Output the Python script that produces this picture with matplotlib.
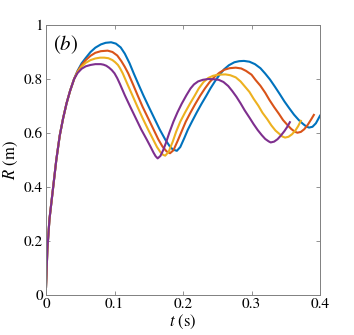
import numpy as np
import matplotlib
matplotlib.use('Agg')
import matplotlib.pyplot as plt

plt.rcParams['font.family'] = 'STIXGeneral'
plt.rcParams['mathtext.fontset'] = 'stix'

# values (t in s, R in m)
t_rise = [0.0, 0.002, 0.005, 0.010, 0.015, 0.020, 0.025, 0.030, 0.035, 0.041]
R_rise = [0.03, 0.17, 0.28, 0.39, 0.50, 0.59, 0.655, 0.71, 0.755, 0.80]

t_blue = t_rise + [0.046, 0.052, 0.058, 0.065, 0.072, 0.080, 0.087, 0.095,
                   0.102, 0.109, 0.115, 0.122, 0.128, 0.135, 0.142, 0.150, 0.158, 0.166, 0.174, 0.180, 0.185, 0.191,
                   0.196, 0.202, 0.207, 0.213, 0.220, 0.227, 0.234, 0.240, 0.247, 0.254, 0.260, 0.267, 0.275, 0.282, 0.289,
                   0.297, 0.305, 0.313, 0.320, 0.327, 0.334, 0.341, 0.348, 0.355, 0.362, 0.369, 0.375, 0.380, 0.384,
                   0.389, 0.394, 0.400]
R_blue = R_rise + [0.83, 0.858, 0.878, 0.900, 0.916, 0.928, 0.934, 0.936,
                   0.931, 0.917, 0.894, 0.858, 0.821, 0.780, 0.740, 0.697, 0.655, 0.613, 0.576, 0.553, 0.539, 0.534,
                   0.548, 0.582, 0.612, 0.642, 0.676, 0.708, 0.738, 0.765, 0.793, 0.818, 0.836, 0.851, 0.862, 0.866, 0.867,
                   0.864, 0.855, 0.840, 0.820, 0.798, 0.772, 0.745, 0.717, 0.692, 0.668, 0.648, 0.634, 0.624, 0.620,
                   0.623, 0.636, 0.664]

t_orange = t_rise + [0.046, 0.052, 0.058, 0.065, 0.072, 0.080, 0.090,
                     0.097, 0.104, 0.110, 0.115, 0.120, 0.127, 0.134, 0.141, 0.149, 0.157, 0.164, 0.170, 0.176, 0.181,
                     0.186, 0.192, 0.198, 0.204, 0.211, 0.218, 0.225, 0.232, 0.239, 0.246, 0.253, 0.260, 0.268, 0.277,
                     0.285, 0.292, 0.300, 0.306, 0.313, 0.320, 0.326, 0.333, 0.340, 0.346, 0.353, 0.358, 0.363, 0.367,
                     0.372, 0.377, 0.382, 0.387, 0.391]
R_orange = R_rise + [0.828, 0.852, 0.870, 0.886, 0.897, 0.903, 0.905,
                     0.900, 0.887, 0.866, 0.845, 0.821, 0.780, 0.738, 0.697, 0.655, 0.613, 0.576, 0.550, 0.532, 0.525,
                     0.536, 0.570, 0.606, 0.642, 0.676, 0.708, 0.738, 0.765, 0.789, 0.808, 0.823, 0.834, 0.840, 0.842,
                     0.839, 0.830, 0.816, 0.796, 0.775, 0.749, 0.723, 0.696, 0.671, 0.648, 0.628, 0.615, 0.605, 0.601,
                     0.604, 0.614, 0.630, 0.650, 0.667]

t_yellow = t_rise + [0.046, 0.052, 0.058, 0.065, 0.072, 0.079, 0.085,
                     0.091, 0.097, 0.101, 0.105, 0.108, 0.112, 0.119, 0.126, 0.1335, 0.141, 0.149, 0.156, 0.162, 0.167, 0.171, 0.174,
                     0.179, 0.185, 0.190, 0.196, 0.203, 0.210, 0.217, 0.223, 0.230, 0.237, 0.244, 0.252, 0.262,
                     0.269, 0.277, 0.284, 0.290, 0.297, 0.303, 0.310, 0.316, 0.323, 0.329, 0.335, 0.341, 0.345, 0.349,
                     0.354, 0.359, 0.364, 0.368, 0.372]
R_yellow = R_rise + [0.826, 0.846, 0.860, 0.870, 0.876, 0.879, 0.879,
                     0.877, 0.870, 0.862, 0.852, 0.840, 0.821, 0.780, 0.740, 0.697, 0.655, 0.613, 0.578, 0.548, 0.529, 0.519, 0.516,
                     0.530, 0.568, 0.605, 0.642, 0.676, 0.708, 0.738, 0.765, 0.789, 0.804, 0.812, 0.816, 0.817,
                     0.814, 0.806, 0.791, 0.773, 0.752, 0.727, 0.701, 0.675, 0.651, 0.628, 0.609, 0.596, 0.587, 0.583,
                     0.586, 0.595, 0.609, 0.625, 0.645]

t_purple = t_rise + [0.046, 0.052, 0.058, 0.065, 0.072, 0.080,
                     0.084, 0.088, 0.092, 0.096, 0.100, 0.104, 0.108, 0.115, 0.123, 0.131, 0.139, 0.147, 0.152, 0.157, 0.160, 0.163,
                     0.167, 0.171, 0.175, 0.180, 0.186, 0.192, 0.198, 0.205, 0.211, 0.216, 0.222, 0.229, 0.237, 0.245,
                     0.252, 0.259, 0.266, 0.272, 0.278, 0.284, 0.290, 0.297, 0.303, 0.309, 0.315, 0.320, 0.325, 0.328,
                     0.333, 0.338, 0.343, 0.348, 0.352, 0.356]
R_purple = R_rise + [0.822, 0.838, 0.847, 0.852, 0.855, 0.855,
                     0.853, 0.849, 0.842, 0.833, 0.821, 0.803, 0.781, 0.740, 0.697, 0.655, 0.613, 0.576, 0.552, 0.527, 0.514, 0.506,
                     0.515, 0.536, 0.563, 0.601, 0.642, 0.677, 0.708, 0.740, 0.765, 0.780, 0.791, 0.797, 0.800, 0.799,
                     0.797, 0.789, 0.774, 0.755, 0.734, 0.710, 0.684, 0.657, 0.633, 0.611, 0.592, 0.578, 0.569, 0.565,
                     0.568, 0.577, 0.591, 0.607, 0.622, 0.640]

series = [
    (t_blue, R_blue, '#0072BD'),
    (t_orange, R_orange, '#D95319'),
    (t_yellow, R_yellow, '#EDB120'),
    (t_purple, R_purple, '#7E2F8E'),
]

fig = plt.figure(figsize=(3.54, 3.35), dpi=100)
ax = fig.add_axes([0.130, 0.1194, 0.774, 0.806])

for t, R, c in series:
    ax.plot(t, R, color=c, linewidth=1.5)

ax.set_xlim(0, 0.4)
ax.set_ylim(0, 1)
ax.set_xticks([0, 0.1, 0.2, 0.3, 0.4])
ax.set_xticklabels(['0', '0.1', '0.2', '0.3', '0.4'])
ax.set_yticks([0, 0.2, 0.4, 0.6, 0.8, 1])
ax.set_yticklabels(['0', '0.2', '0.4', '0.6', '0.8', '1'])
ax.tick_params(direction='in', top=True, right=True, length=3, width=0.6,
               color='#808080', labelsize=11, pad=2)
for s in ax.spines.values():
    s.set_color('#808080')
    s.set_linewidth(0.7)

ax.set_xlabel(r'$t$ (s)', fontsize=12, labelpad=1)
ax.set_ylabel(r'$R$ (m)', fontsize=12, labelpad=3)
ax.text(0.025, 0.97, r'$(b)$', transform=ax.transAxes, fontsize=15, va='top', ha='left')

fig.savefig('out.png', dpi=100)
